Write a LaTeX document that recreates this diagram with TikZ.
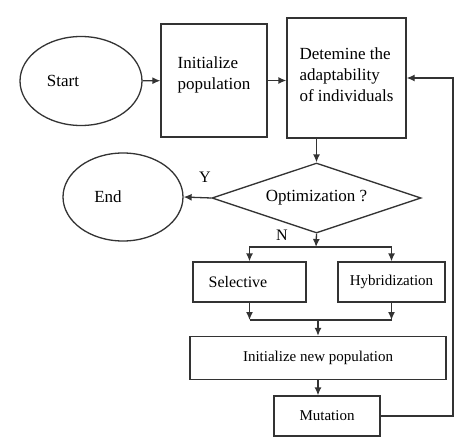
\documentclass[tikz,border=0pt]{standalone}
\usepackage{fontspec}
\setmainfont{Liberation Serif}
\usepackage{tikz}
\usetikzlibrary{arrows.meta,shapes.geometric}

\begin{document}
\begin{tikzpicture}[
  x=1pt, y=-1pt,
  font=\fontsize{17}{21}\selectfont,
  terminal/.style={draw=black!80, line width=1.3pt, ellipse, inner sep=0pt},
  process/.style={draw=black!80, line width=1.3pt, rectangle, align=left, inner sep=0pt},
  smallproc/.style={process, font=\fontsize{15}{18}\selectfont},
  decision/.style={draw=black!80, line width=1.3pt, diamond, aspect=3, inner sep=0pt},
  label/.style={font=\fontsize{16}{18}\selectfont},
  arrow/.style={-{Latex[length=8pt,width=7pt]}, line width=1.3pt, draw=black!80},
  link/.style={line width=1.3pt, draw=black!80}
]
  \useasboundingbox (0,0) rectangle (474,444);

  % top row
  \node[terminal, minimum width=122pt, minimum height=89pt] (start) at (81,81) {\mbox{Start\hspace{36pt}}};
  \node[process, minimum width=106pt, minimum height=113pt] (init) at (214,80.5) {Initialize\\population\\[-6pt]\mbox{}};
  \node[process, minimum width=119pt, minimum height=120pt] (adapt) at (346.5,78) {Detemine the\\adaptability\\of individuals\\[-14pt]\mbox{}};

  \draw[arrow] (start) -- (init);
  \draw[arrow] (init.east) -- (init.east -| adapt.west);

  % test
  \node[decision, minimum width=209pt, minimum height=70pt] (opt) at (316.5,198) {Optimization ?};
  \node[terminal, minimum width=120pt, minimum height=88pt] (end) at (123,197) {\mbox{End\hspace{30pt}}};

  \draw[arrow] (adapt.south -| opt.north) -- (opt.north);
  \draw[arrow] (opt.west) -- (end.east);
  \node[label] (yes) at (205,177) {Y};
  \node[label] (no) at (282,235) {N};

  % operators
  \node[process, minimum width=113pt, minimum height=40pt, font=\fontsize{16}{18}\selectfont] (sel) at (249.5,282) {Selective\hspace{23pt}};
  \node[smallproc, minimum width=107pt, minimum height=40pt] (hyb) at (391.5,282) {Hybridization};
  \node[smallproc, minimum width=256pt, minimum height=43pt] (newpop) at (318,358) {Initialize new population};
  \node[smallproc, minimum width=106pt, minimum height=40pt] (mut) at (327,416) {Mutation};

  \coordinate (split) at (316,247);
  \coordinate (merge) at (318,320);
  \coordinate (back) at (453,0);

  \draw[arrow] (opt.south) -- (split);
  \draw[arrow] (split) -| (sel.north);
  \draw[arrow] (split) -| (hyb.north);

  \draw[arrow] (sel.south) -- (sel.south |- merge);
  \draw[arrow] (hyb.south) -- (hyb.south |- merge);
  \draw[link] (sel.south |- merge) -- (hyb.south |- merge);
  \draw[arrow] (merge) -- (newpop.north);

  \draw[arrow] (newpop.south) -- (newpop.south |- mut.north);

  % loop back
  \draw[arrow] (mut.east) -| (back |- adapt.east) -- (adapt.east);
\end{tikzpicture}
\end{document}
